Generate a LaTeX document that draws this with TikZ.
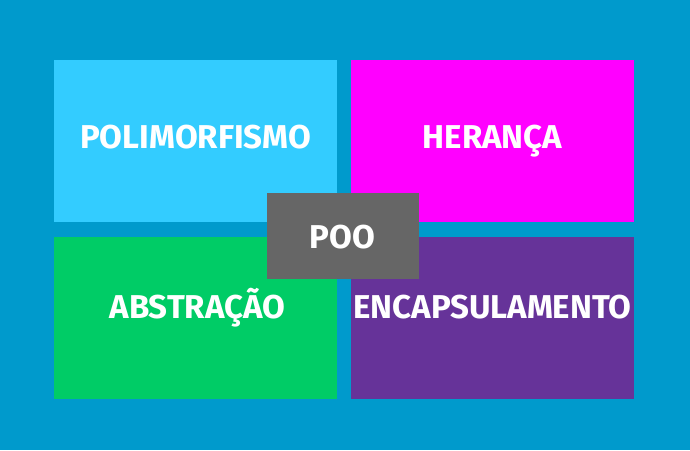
\documentclass[tikz,border=0pt]{standalone}
\usepackage{fontspec}
\setmainfont{Fira Sans}
\usepackage{tikz}

\definecolor{bgblue}{HTML}{009ACC}
\definecolor{polyblue}{HTML}{33CCFF}
\definecolor{heramag}{HTML}{FF00FF}
\definecolor{abstgreen}{HTML}{00CC66}
\definecolor{encpurple}{HTML}{663399}
\definecolor{poogray}{HTML}{666666}

\begin{document}
\begin{tikzpicture}[x=1pt,y=-1pt,
  tile/.style={inner sep=0pt,anchor=north west,minimum width=283pt,minimum height=162pt},
  tiletext/.style={anchor=base,inner sep=0pt,text=white,font=\fontsize{33}{33}\selectfont\bfseries}]
  \fill[bgblue] (0,0) rectangle (690,450);
  % the four tiles
  \node[tile,fill=polyblue] (poly) at (54,60) {};
  \node[tile,fill=heramag] (hera) at (351,60) {};
  \node[tile,fill=abstgreen] (abst) at (54,237) {};
  \node[tile,fill=encpurple] (encap) at (351,237) {};
  \node[tiletext] (polytxt) at (195.5,148.5) {POLIMORFISMO};
  \node[tiletext] (heratxt) at (492.5,148.5) {HERANÇA};
  \node[tiletext] (absttxt) at (197.5,318.5) {ABSTRAÇÃO};
  \node[tiletext] (encaptxt) at (492.5,318) {ENCAPSULAMENTO};
  % centre box
  \node[inner sep=0pt,anchor=north west,minimum width=152pt,minimum height=86pt,fill=poogray] (poo) at (267,193) {};
  \node[tiletext] (pootxt) at (342.5,248) {POO};
\end{tikzpicture}
\end{document}
